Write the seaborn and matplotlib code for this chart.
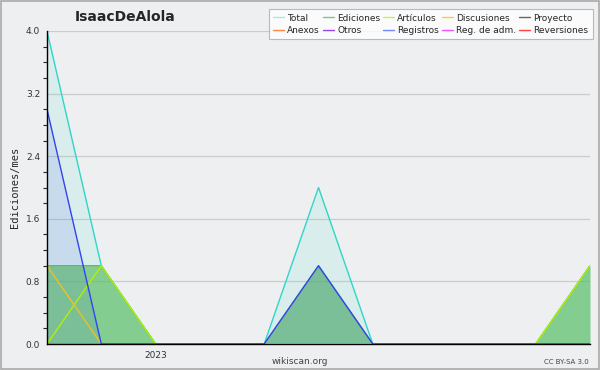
import numpy as np
import pandas as pd
import matplotlib
matplotlib.use('Agg')
import matplotlib.pyplot as plt
from matplotlib.ticker import MultipleLocator
import seaborn as sns

# monthly edits, Nov 2022 .. Sep 2023
months = ['2022-11', '2022-12', '2023-01', '2023-02', '2023-03', '2023-04',
          '2023-05', '2023-06', '2023-07', '2023-08', '2023-09']
total = [4, 1, 0, 0, 0, 2, 0, 0, 0, 0, 1]
ediciones = [1, 1, 0, 0, 0, 1, 0, 0, 0, 0, 1]
articulos = [0, 1, 0, 0, 0, 0, 0, 0, 0, 0, 1]
discusiones = [1, 0, 0, 0, 0, 0, 0, 0, 0, 0, 0]
registros = [3, 0, 0, 0, 0, 1, 0, 0, 0, 0, 0]
zeros = [0] * len(months)

series_names = ['Total', 'Ediciones', 'Artículos', 'Discusiones', 'Proyecto',
                'Anexos', 'Otros', 'Registros', 'Reg. de adm.', 'Reversiones']
series_values = [total, ediciones, articulos, discusiones, zeros,
                 zeros, zeros, registros, zeros, zeros]
line_colors = ['#2fd6c8', '#5cb85c', '#b4f000', '#f0c020', '#555555',
               '#ff7733', '#8833dd', '#3344ee', '#dd33ee', '#ee3333']
legend_colors = ['#99eee6', '#77cc77', '#ccf044', '#ffcc33', '#666666',
                 '#ff8844', '#9944ee', '#7788ff', '#ee55ff', '#ff4444']
fill_colors = {'Total': '#40e0d0', 'Ediciones': '#55bb5c', 'Registros': '#3344ee'}
fill_alpha = {'Total': 0.12, 'Ediciones': 0.64, 'Registros': 0.1}

x = np.arange(len(months))
df = pd.DataFrame({'x': x})
for name, vals in zip(series_names, series_values):
    df[name] = vals

bg = '#eeeff1'
sns.set_style('white')
fig = plt.figure(figsize=(6, 3.7), dpi=100, facecolor=bg)
ax = fig.add_axes([47 / 600, 1 - 344 / 370, 543 / 600, 313 / 370])
ax.set_facecolor(bg)

for name, lc in zip(series_names, line_colors):
    if df[name].sum() == 0:
        continue
    if name in fill_alpha:
        ax.fill_between(df['x'], 0, df[name], color=fill_colors[name],
                        alpha=fill_alpha[name], lw=0)
    sns.lineplot(data=df, x='x', y=name, color=lc, lw=1, ax=ax, legend=False)

ax.set_xlim(0, len(months) - 1)
ax.set_ylim(0, 4)
ax.yaxis.set_minor_locator(MultipleLocator(0.2))
ax.set_yticks([0, 0.8, 1.6, 2.4, 3.2, 4.0])
ax.set_yticklabels(['0.0', '0.8', '1.6', '2.4', '3.2', '4.0'])
ax.set_xticks(x)
ax.set_xticklabels(['2023' if m == '2023-01' else '' for m in months])
ax.tick_params(axis='both', which='major', direction='out', length=4, width=0.8,
               labelsize=6.5, colors='black', labelcolor='#333333', pad=1)
ax.tick_params(axis='y', which='minor', direction='out', length=3, width=0.8, left=True)
ax.tick_params(axis='x', which='minor', bottom=False)
ax.grid(axis='y', which='major', color='#cccccc', lw=0.9)
ax.set_axisbelow(True)
for s in ['top', 'right']:
    ax.spines[s].set_visible(False)
for s in ['left', 'bottom']:
    ax.spines[s].set_color('black')
    ax.spines[s].set_linewidth(1)
ax.set_xlabel('')
ax.set_ylabel('Ediciones/mes', fontsize=7.5, family='DejaVu Sans Mono', labelpad=4)

fig.text(125 / 600, 1 - 17 / 370, 'IsaacDeAlola', fontsize=10, fontweight='bold',
         ha='center', va='center')
fig.text(300 / 600, 1 - 361 / 370, 'wikiscan.org', fontsize=6.5, color='#444444',
         ha='center', va='center')
fig.text(589 / 600, 1 - 362 / 370, 'CC BY-SA 3.0', fontsize=5, color='#444444',
         ha='right', va='center')

# legend, filled column-wise so reorder to read row-wise
handles = [plt.Line2D([], [], color=c, lw=1) for c in legend_colors]
order = [0, 5, 1, 6, 2, 7, 3, 8, 4, 9]
leg = fig.legend([handles[i] for i in order], [series_names[i] for i in order],
                 ncol=5, loc='upper right', bbox_to_anchor=(593 / 600, 1 - 9 / 370),
                 fontsize=6.5, frameon=True, fancybox=False, handlelength=1.2,
                 handletextpad=0.35, columnspacing=0.35, labelspacing=0.35,
                 borderpad=0.5, borderaxespad=0)
leg.get_frame().set_edgecolor('#aaaaaa')
leg.get_frame().set_linewidth(0.8)

fig.patches.append(plt.Rectangle((0.001, 0.002), 0.997, 0.996, transform=fig.transFigure,
                                 fill=False, edgecolor='#aaaaaa', lw=1.2))

fig.savefig('out.png', dpi=100, facecolor=bg)
